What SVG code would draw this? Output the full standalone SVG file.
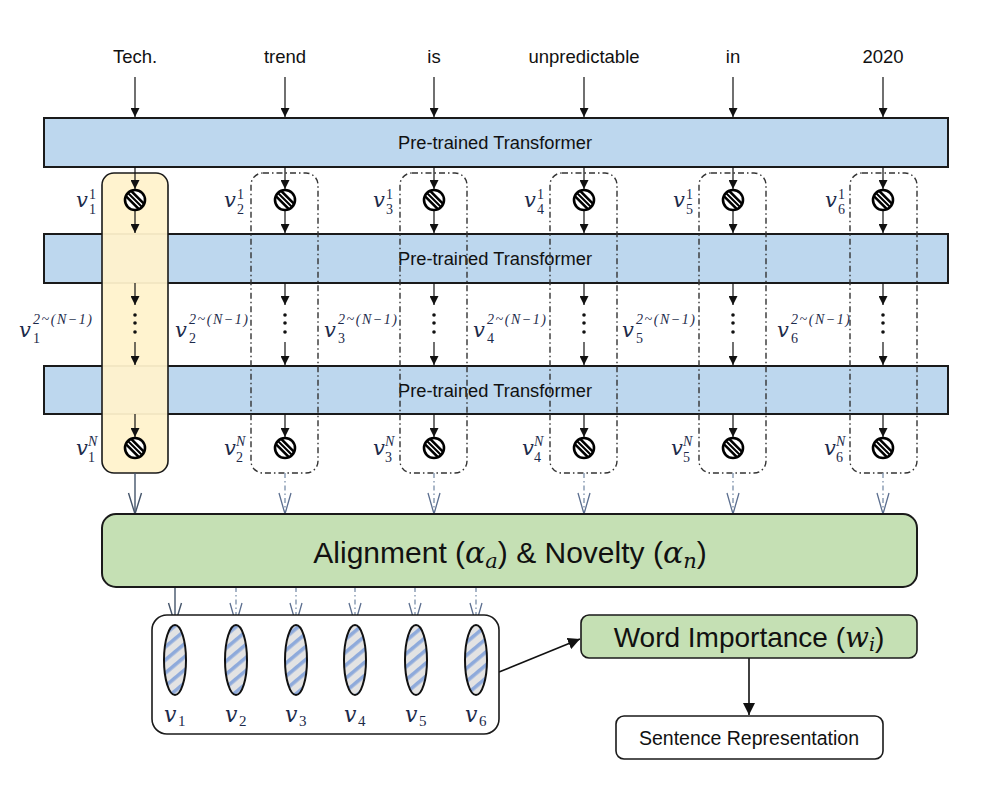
<svg xmlns="http://www.w3.org/2000/svg" width="989" height="793" viewBox="0 0 989 793">
<style>
.word{font-family:"Liberation Sans",Arial,sans-serif;font-size:18.5px;fill:#111;text-anchor:middle}
.tf{fill:#bdd7ee;stroke:#1a1a1a;stroke-width:2}
.tft{font-family:"Liberation Sans",Arial,sans-serif;font-size:18.3px;fill:#111;text-anchor:middle}
.dbox{fill:none;stroke:#333;stroke-width:1.4;stroke-dasharray:6 3 1.5 3}
.ybox{fill:#fff2cc;fill-opacity:0.95;stroke:#1a1a1a;stroke-width:1.6}
.ar{stroke:#111;stroke-width:1.2;fill:none;marker-end:url(#af)}
.vs{stroke:#44546a;stroke-width:1.4;fill:none;marker-end:url(#ov)}
.vd{stroke:#8497b0;stroke-width:1.4;fill:none;stroke-dasharray:5 3 1.5 3;marker-end:url(#ovd)}
.v{font-family:"DejaVu Serif","Liberation Serif",serif;font-style:italic;font-size:21px;fill:#1c2a4a}
.s{font-family:"Liberation Serif",serif;font-size:14px;fill:#1c2a4a}
.si{font-family:"Liberation Serif",serif;font-style:italic;font-size:14px;fill:#1c2a4a}
.vb{font-family:"DejaVu Serif","Liberation Serif",serif;font-style:italic;font-size:22px;fill:#1c2a4a}
.sb{font-family:"Liberation Serif",serif;font-size:15px;fill:#1c2a4a}
.dot{fill:#111}
.ell{fill:url(#stripe);stroke:#111;stroke-width:2}
</style>
<defs>
<marker id="af" viewBox="0 0 10 10" refX="10" refY="5" markerWidth="9" markerHeight="9" markerUnits="userSpaceOnUse" orient="auto"><path d="M0,0 L10,5 L0,10 z" fill="#111"/></marker>
<marker id="af2" viewBox="0 0 10 10" refX="10" refY="5" markerWidth="12" markerHeight="12" markerUnits="userSpaceOnUse" orient="auto"><path d="M0,0 L10,5 L0,10 z" fill="#111"/></marker>
<marker id="ov" viewBox="-1 -8 23 16" refX="21" refY="0" markerWidth="23" markerHeight="16" markerUnits="userSpaceOnUse" orient="auto"><path d="M0,-6.5 L21,0 L0,6.5" fill="none" stroke="#44546a" stroke-width="1.4"/></marker>
<marker id="ovd" viewBox="-1 -8 23 16" refX="21" refY="0" markerWidth="23" markerHeight="16" markerUnits="userSpaceOnUse" orient="auto"><path d="M0,-6 L21,0 L0,6" fill="none" stroke="#5b6e8f" stroke-width="1.3"/></marker>
<clipPath id="sc"><circle r="10"/></clipPath>
<g id="sym">
<circle r="10" fill="#fff"/>
<g clip-path="url(#sc)">
<path d="M-12,-12 L12,12" stroke="#000" stroke-width="10"/>
<path d="M-10.8,-13.2 L13.2,10.8 M-13.2,-10.8 L10.8,13.2" stroke="#fff" stroke-width="1.4"/>
</g>
<circle r="10" fill="none" stroke="#000" stroke-width="2.6"/>
</g>
<pattern id="stripe" width="10" height="10" patternUnits="userSpaceOnUse" patternTransform="rotate(-40)">
<rect width="10" height="10" fill="#e3e3e3"/>
<rect y="0" width="10" height="3.6" fill="#8eaadb"/>
</pattern>
</defs>

<g id="words">
<text class="word" x="135" y="63">Tech.</text>
<text class="word" x="285" y="63">trend</text>
<text class="word" x="434" y="63">is</text>
<text class="word" x="584" y="63">unpredictable</text>
<text class="word" x="733" y="63">in</text>
<text class="word" x="883" y="63">2020</text>
</g>

<g id="transformer1"><rect class="tf" x="44" y="118" width="904" height="49"/><text class="tft" x="495" y="149">Pre-trained Transformer</text></g>
<g id="transformer2"><rect class="tf" x="44" y="234" width="904" height="49"/><text class="tft" x="495" y="265">Pre-trained Transformer</text></g>
<g id="transformer3"><rect class="tf" x="44" y="366" width="904" height="48"/><text class="tft" x="495" y="397">Pre-trained Transformer</text></g>

<g id="column1"><rect class="ybox" x="102" y="173" width="66" height="300" rx="12"/></g>
<g id="column2"><rect class="dbox" x="251" y="173" width="67" height="300" rx="12"/></g>
<g id="column3"><rect class="dbox" x="400" y="173" width="67" height="300" rx="12"/></g>
<g id="column4"><rect class="dbox" x="550" y="173" width="67" height="300" rx="12"/></g>
<g id="column5"><rect class="dbox" x="699" y="173" width="67" height="300" rx="12"/></g>
<g id="column6"><rect class="dbox" x="850" y="173" width="67" height="300" rx="12"/></g>

<g id="connectors">
<path class="ar" d="M135,77 V117"/><path class="ar" d="M285,77 V117"/><path class="ar" d="M434,77 V117"/><path class="ar" d="M584,77 V117"/><path class="ar" d="M733,77 V117"/><path class="ar" d="M883,77 V117"/>
<path class="ar" d="M135,167 V189"/><path class="ar" d="M285,167 V189"/><path class="ar" d="M434,167 V189"/><path class="ar" d="M584,167 V189"/><path class="ar" d="M733,167 V189"/><path class="ar" d="M883,167 V189"/>
<path class="ar" d="M135,211 V233"/><path class="ar" d="M285,211 V233"/><path class="ar" d="M434,211 V233"/><path class="ar" d="M584,211 V233"/><path class="ar" d="M733,211 V233"/><path class="ar" d="M883,211 V233"/>
<path class="ar" d="M135,283 V305"/><path class="ar" d="M285,283 V305"/><path class="ar" d="M434,283 V305"/><path class="ar" d="M584,283 V305"/><path class="ar" d="M733,283 V305"/><path class="ar" d="M883,283 V305"/>
<path class="ar" d="M135,342 V365"/><path class="ar" d="M285,342 V365"/><path class="ar" d="M434,342 V365"/><path class="ar" d="M584,342 V365"/><path class="ar" d="M733,342 V365"/><path class="ar" d="M883,342 V365"/>
<path class="ar" d="M135,414 V437"/><path class="ar" d="M285,414 V437"/><path class="ar" d="M434,414 V437"/><path class="ar" d="M584,414 V437"/><path class="ar" d="M733,414 V437"/><path class="ar" d="M883,414 V437"/>
<path class="vs" d="M135,473 V514"/>
<path class="vd" d="M285,473 V514"/><path class="vd" d="M434,473 V514"/><path class="vd" d="M584,473 V514"/><path class="vd" d="M733,473 V514"/><path class="vd" d="M883,473 V514"/>
<path class="vs" d="M175,587 V624"/>
<path class="vd" d="M236,587 V624"/><path class="vd" d="M296,587 V624"/><path class="vd" d="M355,587 V624"/><path class="vd" d="M415,587 V624"/><path class="vd" d="M476,587 V624"/>
<path d="M499,672 L580,639" stroke="#111" stroke-width="1.6" fill="none" marker-end="url(#af2)"/>
<path d="M749,658 V715" stroke="#111" stroke-width="1.6" fill="none" marker-end="url(#af2)"/>
</g>

<g id="dots">
<circle class="dot" cx="135" cy="315" r="1.8"/><circle class="dot" cx="135" cy="323" r="1.8"/><circle class="dot" cx="135" cy="332" r="1.8"/>
<circle class="dot" cx="285" cy="315" r="1.8"/><circle class="dot" cx="285" cy="323" r="1.8"/><circle class="dot" cx="285" cy="332" r="1.8"/>
<circle class="dot" cx="434" cy="315" r="1.8"/><circle class="dot" cx="434" cy="323" r="1.8"/><circle class="dot" cx="434" cy="332" r="1.8"/>
<circle class="dot" cx="584" cy="315" r="1.8"/><circle class="dot" cx="584" cy="323" r="1.8"/><circle class="dot" cx="584" cy="332" r="1.8"/>
<circle class="dot" cx="733" cy="315" r="1.8"/><circle class="dot" cx="733" cy="323" r="1.8"/><circle class="dot" cx="733" cy="332" r="1.8"/>
<circle class="dot" cx="883" cy="315" r="1.8"/><circle class="dot" cx="883" cy="323" r="1.8"/><circle class="dot" cx="883" cy="332" r="1.8"/>
</g>

<g id="symbols">
<use href="#sym" x="135" y="200"/><use href="#sym" x="285" y="200"/><use href="#sym" x="434" y="200"/><use href="#sym" x="584" y="200"/><use href="#sym" x="733" y="200"/><use href="#sym" x="883" y="200"/>
<use href="#sym" x="135" y="448"/><use href="#sym" x="285" y="448"/><use href="#sym" x="434" y="448"/><use href="#sym" x="584" y="448"/><use href="#sym" x="733" y="448"/><use href="#sym" x="883" y="448"/>
</g>

<g id="labels-row1">
<text class="v" x="76" y="207">v</text><text class="s" x="89" y="199">1</text><text class="s" x="89" y="214">1</text>
<text class="v" x="224" y="207">v</text><text class="s" x="237" y="199">1</text><text class="s" x="237" y="214">2</text>
<text class="v" x="373" y="207">v</text><text class="s" x="386" y="199">1</text><text class="s" x="386" y="214">3</text>
<text class="v" x="524" y="207">v</text><text class="s" x="537" y="199">1</text><text class="s" x="537" y="214">4</text>
<text class="v" x="673" y="207">v</text><text class="s" x="686" y="199">1</text><text class="s" x="686" y="214">5</text>
<text class="v" x="825" y="207">v</text><text class="s" x="838" y="199">1</text><text class="s" x="838" y="214">6</text>
</g>

<g id="labels-mid">
<text class="v" x="19" y="337">v</text><text class="si" x="33" y="324" textLength="59" lengthAdjust="spacing">2~(N−1)</text><text class="s" x="33" y="343">1</text>
<text class="v" x="175" y="337">v</text><text class="si" x="189" y="324" textLength="59" lengthAdjust="spacing">2~(N−1)</text><text class="s" x="189" y="343">2</text>
<text class="v" x="324" y="337">v</text><text class="si" x="338" y="324" textLength="59" lengthAdjust="spacing">2~(N−1)</text><text class="s" x="338" y="343">3</text>
<text class="v" x="473" y="337">v</text><text class="si" x="487" y="324" textLength="59" lengthAdjust="spacing">2~(N−1)</text><text class="s" x="487" y="343">4</text>
<text class="v" x="622" y="337">v</text><text class="si" x="636" y="324" textLength="59" lengthAdjust="spacing">2~(N−1)</text><text class="s" x="636" y="343">5</text>
<text class="v" x="777" y="337">v</text><text class="si" x="791" y="324" textLength="59" lengthAdjust="spacing">2~(N−1)</text><text class="s" x="791" y="343">6</text>
</g>

<g id="labels-rowN">
<text class="v" x="76" y="455">v</text><text class="si" x="88" y="446">N</text><text class="s" x="88" y="462">1</text>
<text class="v" x="224" y="455">v</text><text class="si" x="236" y="446">N</text><text class="s" x="236" y="462">2</text>
<text class="v" x="373" y="455">v</text><text class="si" x="385" y="446">N</text><text class="s" x="385" y="462">3</text>
<text class="v" x="522" y="455">v</text><text class="si" x="534" y="446">N</text><text class="s" x="534" y="462">4</text>
<text class="v" x="671" y="455">v</text><text class="si" x="683" y="446">N</text><text class="s" x="683" y="462">5</text>
<text class="v" x="824" y="455">v</text><text class="si" x="836" y="446">N</text><text class="s" x="836" y="462">6</text>
</g>

<g id="alignment">
<rect x="102" y="514" width="815" height="73" rx="14" fill="#c5e0b4" stroke="#1a1a1a" stroke-width="2"/>
<text x="510" y="563" text-anchor="middle" font-family="Liberation Sans,Arial,sans-serif" font-size="30" fill="#111">Alignment (<tspan font-family="DejaVu Serif,Liberation Serif,serif" font-style="italic">α</tspan><tspan font-family="DejaVu Serif,Liberation Serif,serif" font-style="italic" font-size="21" dy="5">a</tspan><tspan dy="-5">) &amp; Novelty (</tspan><tspan font-family="DejaVu Serif,Liberation Serif,serif" font-style="italic">α</tspan><tspan font-family="DejaVu Serif,Liberation Serif,serif" font-style="italic" font-size="21" dy="5">n</tspan><tspan dy="-5">)</tspan></text>
</g>

<g id="vectors">
<rect x="152" y="615" width="347" height="119" rx="15" fill="#fff" stroke="#1a1a1a" stroke-width="1.6"/>
<ellipse class="ell" cx="175" cy="660" rx="11" ry="35"/>
<ellipse class="ell" cx="236" cy="660" rx="11" ry="35"/>
<ellipse class="ell" cx="296" cy="660" rx="11" ry="35"/>
<ellipse class="ell" cx="355" cy="660" rx="11" ry="35"/>
<ellipse class="ell" cx="416" cy="660" rx="11" ry="35"/>
<ellipse class="ell" cx="476" cy="660" rx="11" ry="35"/>
<text class="vb" x="164" y="722">v</text><text class="sb" x="178" y="726">1</text>
<text class="vb" x="225" y="722">v</text><text class="sb" x="239" y="726">2</text>
<text class="vb" x="285" y="722">v</text><text class="sb" x="299" y="726">3</text>
<text class="vb" x="344" y="722">v</text><text class="sb" x="358" y="726">4</text>
<text class="vb" x="405" y="722">v</text><text class="sb" x="419" y="726">5</text>
<text class="vb" x="465" y="722">v</text><text class="sb" x="479" y="726">6</text>
</g>

<g id="word-importance">
<rect x="581" y="615" width="336" height="43" rx="8" fill="#c5e0b4" stroke="#1a1a1a" stroke-width="1.6"/>
<text x="749" y="647" text-anchor="middle" font-family="Liberation Sans,Arial,sans-serif" font-size="28" fill="#111">Word Importance (<tspan font-family="DejaVu Serif,Liberation Serif,serif" font-style="italic">w</tspan><tspan font-family="DejaVu Serif,Liberation Serif,serif" font-style="italic" font-size="19" dy="4">i</tspan><tspan dy="-4">)</tspan></text>
</g>

<g id="sentence-representation">
<rect x="616" y="716" width="267" height="43" rx="8" fill="#fff" stroke="#1a1a1a" stroke-width="1.6"/>
<text x="749" y="745" text-anchor="middle" font-family="Liberation Sans,Arial,sans-serif" font-size="19.5" fill="#111">Sentence Representation</text>
</g>
</svg>
